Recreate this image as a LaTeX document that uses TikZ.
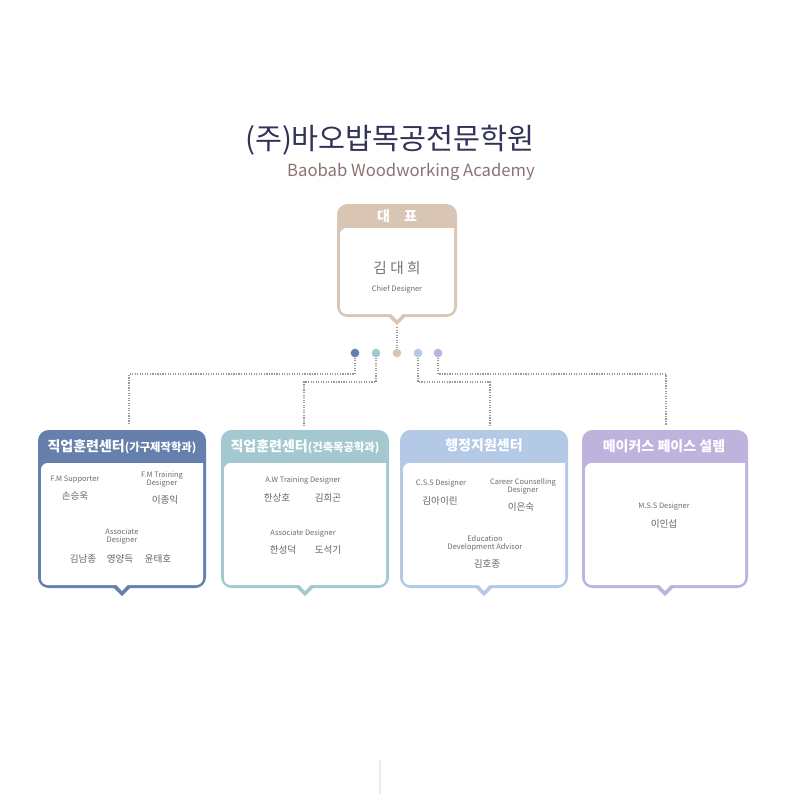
\documentclass[tikz,border=0pt]{standalone}
\usepackage{fontspec}
\setmainfont{Noto Sans CJK KR}
\begin{document}
\begin{tikzpicture}[x=0.75pt,y=-0.75pt,
  en/.style={font=\fontsize{5.6}{6}\selectfont,text=gray!85!black,align=center,inner sep=0pt},
  ko/.style={font=\fontsize{7.2}{8}\selectfont,text=gray!80!black,inner sep=0pt},
  hd/.style={font=\bfseries\fontsize{10.5}{12}\selectfont,text=white,inner sep=0pt},
  dotl/.style={densely dotted,line width=0.9pt,gray!80},
  pt/.style={circle,inner sep=0pt,minimum size=6.5pt}]
\definecolor{cA}{HTML}{6680AD}\definecolor{cB}{HTML}{A3C8CF}\definecolor{cC}{HTML}{D9C5B3}
\definecolor{cD}{HTML}{B3C9E6}\definecolor{cE}{HTML}{BDB3DC}
\useasboundingbox (0,0) rectangle (794,794);
\fill[white] (0,0) rectangle (794,794);
\newcommand\obox[6]{% x1 x2 y1 hy y2 color
  \fill[#6,rounded corners=8] (#1,#3) rectangle (#2,#5);
  \fill[white,rounded corners=5] (#1+3,#4) [sharp corners]-- (#2-3,#4) [rounded corners=5]-- (#2-3,#5-3) -- (#1+3,#5-3) -- cycle;
  \fill[#6] ({(#1+#2)/2-9},#5-1) -- ({(#1+#2)/2},#5+8) -- ({(#1+#2)/2+9},#5-1) -- cycle;
  \fill[white] ({(#1+#2)/2-6},#5-3.5) -- ({(#1+#2)/2},#5+3) -- ({(#1+#2)/2+6},#5-3.5) -- cycle;}
% title
\node[font=\fontsize{22}{24}\selectfont,text=black!75!blue!60!gray,inner sep=0pt] (title) at (390,140) {(주)바오밥목공전문학원};
\node[font=\fontsize{12.5}{14}\selectfont,text=gray!75!red!40!gray,inner sep=0pt] (sub) at (411,172) {Baobab Woodworking Academy};
% CEO
\obox{337}{457}{204}{228}{317}{cC}
\node[hd] (ceoh) at (397,216) {대\quad 표};
\node[font=\fontsize{11}{12}\selectfont,text=gray!90!black,inner sep=0pt] (ceo) at (397,268) {김 대 희};
\node[en] (ceot) at (397,289) {Chief Designer};
\coordinate (ceob) at (397,327);
% dots
\node[pt,fill=cA] (d1) at (355,353) {};
\node[pt,fill=cB] (d2) at (376,353) {};
\node[pt,fill=cC] (d3) at (397,353) {};
\node[pt,fill=cD] (d4) at (418,353) {};
\node[pt,fill=cE] (d5) at (438,353) {};
\coordinate (t1) at (129,425);\coordinate (t2) at (304,425);
\coordinate (t3) at (490,425);\coordinate (t4) at (666,425);
\coordinate (k1) at (355,374);\coordinate (k2) at (376,382);
\coordinate (k4) at (418,382);\coordinate (k5) at (438,374);
\draw[dotl] (ceob) -- (d3);
\draw[dotl] (d1) -- (k1) -| (t1);
\draw[dotl] (d2) -- (k2) -| (t2);
\draw[dotl] (d4) -- (k4) -| (t3);
\draw[dotl] (d5) -- (k5) -| (t4);
% boxes
\obox{38}{206}{430}{463}{588}{cA}
\obox{221}{389}{430}{463}{588}{cB}
\obox{400}{568}{430}{463}{588}{cD}
\obox{582}{748}{430}{463}{588}{cE}
\node[hd] (h1) at (122,447) {직업훈련센터{\fontsize{8.5}{10}\selectfont(가구제작학과)}};
\node[hd] (h2) at (305,447) {직업훈련센터{\fontsize{8.5}{10}\selectfont(건축목공학과)}};
\node[hd] (h3) at (484,445) {행정지원센터};
\node[hd] (h4) at (664,446) {메이커스 페이스 설렘};
% box1
\node[en] (a1) at (75,480) {F.M Supporter};
\node[ko] (a2) at (75,496) {손승욱};
\node[en] (a3) at (162,480) {F.M Training\\Designer};
\node[ko] (a4) at (165,500) {이종익};
\node[en] (a5) at (122,537) {Associate\\Designer};
\node[ko] (a6) at (83,559) {김남종};
\node[ko] (a7) at (120,559) {영양득};
\node[ko] (a8) at (158,559) {윤태호};
% box2
\node[en] (b1) at (303,481) {A.W Training Designer};
\node[ko] (b2) at (277,498) {한상호};
\node[ko] (b3) at (328,498) {김희곤};
\node[en] (b4) at (303,534) {Associate Designer};
\node[ko] (b5) at (283,550) {한성덕};
\node[ko] (b6) at (328,550) {도석기};
% box3
\node[en] (c1) at (441,484) {C.S.S Designer};
\node[ko] (c2) at (440,501) {김아이린};
\node[en] (c3) at (523,486) {Career Counselling\\Designer};
\node[ko] (c4) at (521,507) {이은숙};
\node[en] (c5) at (485,543) {Education\\Development Advisor};
\node[ko] (c6) at (487,564) {김호종};
% box4
\node[en] (e1) at (664,507) {M.S.S Designer};
\node[ko] (e2) at (664,524) {이인섭};
% bottom line
\coordinate (bl1) at (380,760);\coordinate (bl2) at (380,794);
\draw[cC!40,line width=0.8pt] (bl1) -- (bl2);
\end{tikzpicture}
\end{document}
